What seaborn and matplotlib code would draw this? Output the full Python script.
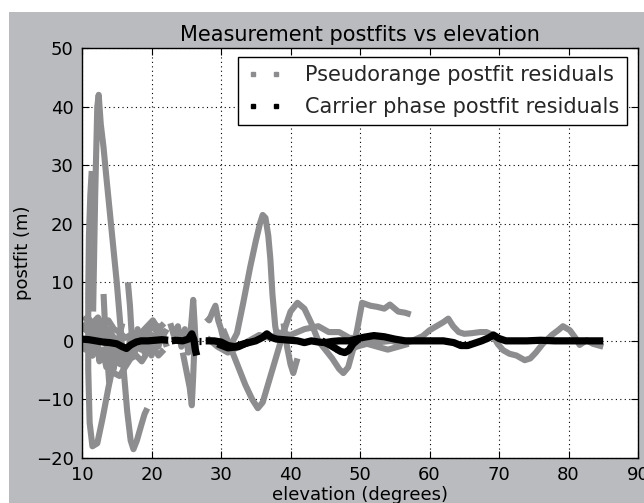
import numpy as np
import pandas as pd
import matplotlib
matplotlib.use("Agg")
import matplotlib.pyplot as plt
from matplotlib.lines import Line2D
from matplotlib.patches import Rectangle
import seaborn as sns

# ---------------- data ----------------
title = "Measurement postfits vs elevation"
xlabel = "elevation (degrees)"
ylabel = "postfit (m)"
xticks = [10, 20, 30, 40, 50, 60, 70, 80, 90]
yticks = [-20, -10, 0, 10, 20, 30, 40, 50]
legend_labels = ["Pseudorange postfit residuals", "Carrier phase postfit residuals"]

# pseudorange postfit residual tracks (elevation, postfit)
pr1_elev = [11.6, 11.9, 12.2, 12.4, 12.7, 13.1, 13.5, 14.0, 14.5, 15.0, 15.5, 16.0, 16.5, 17.0, 17.4, 17.9, 18.5, 19.0, 19.4]
pr1_res = [5, 25, 40, 42, 37, 33, 28, 22, 16, 10, 3, -5, -12, -17, -18.5, -17, -14.5, -12.5, -11.5]

pr2_elev = [11.4, 11.2, 11.0, 10.9, 10.9, 11.1, 11.5, 12.2, 13.0, 13.8, 14.5, 15.2, 15.8]
pr2_res = [29, 25, 18, 8, -5, -14, -18, -17.5, -13, -8, -4, 0, 3]

pr3_elev = [10.0, 10.5, 11.0, 11.5, 12.0, 12.5, 13.0, 13.5, 14.0, 14.5, 15.0, 15.5, 16.0, 16.5, 17.0, 17.5, 18.0, 18.5, 19.0, 19.5, 20.0, 20.5, 21.0, 21.5, 22.2]
pr3_res = [3, 2, 3, 1, 2.5, 0.5, 2, 0, 1, -1, 0, -2, -1.5, -3, -1, -2.5, 0.5, -1.5, 1.5, -0.5, 1, -1.5, 2.5, 0.5, 2]
pr4_res = [0, -1.5, 0.5, -2.5, 1, -3.5, -1.5, -4.5, -1, -5, -2.5, -4, -1, -3, 1, -1, 2, 0, -2, 0.5, -2.5, -0.5, -1, 1.5, -1]

pr17_elev = [10.2, 10.8, 11.5, 12.3, 13.0, 13.8, 14.6, 15.4, 16.2, 17.0, 17.8, 18.6, 19.4, 20.2, 21.0, 21.8]
pr17_res = [1.5, 2.5, 2.0, 3.0, 1.0, 2.0, 0.5, -1.0, -2.5, -2.0, -1.5, 0.5, 1.5, 2.5, 1.0, 2.0]
pr18_res = [-1.0, -1.5, -2.5, -1.0, -3.0, -4.0, -5.5, -6.0, -4.5, -3.0, -2.5, -3.5, -2.0, -1.0, -2.5, -1.5]
pr19_res = [3.5, 4.0, 3.0, 4.0, 2.5, 3.5, 2.0, 1.5, 0.5, 1.0, 0.5, 1.5, 2.5, 3.5, 2.0, 3.0]

pr5_elev = [13.1, 13.3, 13.6, 13.9, 14.2]
pr5_res = [8, 3, -2, -7, -4]

pr6_elev = [16.6, 16.9, 17.1, 17.3]
pr6_res = [10, 6, 2, -1]

pr7_elev = [22.7, 23.2, 23.8, 24.3, 24.8, 25.3, 25.6]
pr7_res = [3, 1, 2.5, -1, 2, -2, 1]

pr8_elev = [24.5, 25.0, 25.5, 25.8, 26.0, 26.2]
pr8_res = [-2, -5, -8, -11, -6, 0]

pr9_elev = [25.5, 25.8, 26.0, 26.2, 26.4]
pr9_res = [0, 4, 7, 3, -2]

pr10_elev = [27.9, 28.3, 28.8, 29.2, 29.6, 30.0, 30.4, 30.8]
pr10_res = [4, 3.5, 5, 6, 3.5, 2, 0, -1]

pr11_elev = [31.5, 32.3, 33.2, 34.2, 35.0, 35.6, 36.0, 36.4, 36.8, 37.1, 37.4, 37.8, 38.2]
pr11_res = [-0.5, 1.3, 6.5, 12.6, 17, 20, 21.5, 21, 18, 14, 8, 2.5, 0]

pr12_elev = [30.3, 31.5, 32.5, 33.5, 34.5, 35.3, 36.0, 37.0, 38.0, 39.0, 40.0, 41.0, 42.0, 43.0, 44.0, 45.0, 46.0, 47.0, 47.6, 48.3, 49.0, 49.6, 50.3, 51.5, 52.5, 53.5, 54.3, 55.5, 56.5, 57.3]
pr12_res = [2, -1.5, -4.5, -7.5, -10, -11.5, -10.5, -6.5, -2.5, 1.5, 5, 6.5, 5.5, 3, 0, -1.5, -3, -4.8, -5.5, -4.5, -1.5, 2, 6.5, 6, 5.8, 5.5, 6.2, 5, 4.8, 4.5]

pr13_elev = [39.0, 39.5, 40.0, 40.4, 41.0]
pr13_res = [3, -1, -4, -5.5, -3]

pr14_elev = [38.0, 40.0, 42.0, 44.0, 45.5, 47.0, 48.5, 50.0, 51.5, 53.0, 54.5, 56.0, 57.5, 59.0, 60.0, 61.0, 62.0, 62.7, 63.4, 64.2, 65.0, 66.0, 67.3, 68.2, 69.1, 69.8, 70.6, 71.5, 72.5, 73.7, 74.5, 75.3, 76.3, 77.6, 78.5, 79.2, 80.2, 81.0, 81.6, 82.6, 83.5, 85.0]
pr14_res = [1.5, 1, 2, 2.5, 1.5, 1.5, 0.5, 0.5, 0, -0.2, 0, -0.5, 0, 0.8, 1.8, 2.5, 3.2, 3.8, 2.5, 1.5, 1.2, 1.3, 1.5, 1.5, 1.0, -0.5, -1.6, -2.2, -2.5, -3.3, -3.0, -2.0, -0.5, 1.0, 1.8, 2.5, 1.8, 0.5, -0.7, 0.1, -0.5, -1.0]

pr15_elev = [46.5, 48.0, 49.5, 51.0, 52.5, 54.0, 55.5, 57.0]
pr15_res = [-1.5, -2, -1, -0.5, -1, -1.5, -1, -0.5]

pr16_elev = [28.0, 29.5, 31.0, 32.5, 34.0, 35.5, 37.0, 38.0]
pr16_res = [0.5, -1, -2, -1, 0, 1, 0.5, 1]

# carrier phase postfit residual tracks
cp1_elev = [10.0, 11.0, 12.0, 13.0, 14.0, 15.0, 15.8, 16.4, 17.0, 17.8, 18.5, 19.5, 20.5, 21.5, 22.4]
cp1_res = [0.3, 0.2, 0, -0.2, -0.3, -0.5, -1.0, -1.3, -0.7, -0.2, 0, 0, 0.1, 0.2, 0.1]

cp2_elev = [22.9, 23.5, 24.5, 25.3, 25.8, 26.1, 26.3, 26.5]
cp2_res = [0, 0.1, 0, 0.3, 1.2, 0.2, -1.5, -2.5]

cp3_elev = [26.9, 27.1]
cp3_res = [0, 0]

cp4_elev = [27.8, 29, 30, 31, 32, 33, 34, 35, 36, 36.6, 37.2, 38, 39, 40, 41, 42, 43, 44, 45, 46, 47, 47.8, 48.5, 49.5, 50.5, 52, 53.5, 55, 56.5, 58, 60, 62, 63.5, 64.5, 65.5, 66.5, 67.5, 68.5, 69.2, 70, 71, 72, 74, 76, 78, 80, 82, 85]
cp4_res = [0, 0, -0.2, -0.8, -1, -0.6, -0.3, 0, 0.6, 1.2, 0.6, 0.3, 0.2, 0.1, 0, -0.3, 0, -0.2, -0.3, -0.1, 0, 0, 0, 0.3, 0.6, 0.9, 0.7, 0.3, 0, 0, 0, 0, -0.3, -0.8, -0.8, -0.4, 0, 0.5, 1.0, 0.4, 0, 0, 0, 0.1, 0, 0, 0, 0]

cp5_elev = [44.5, 45.5, 46.5, 47.2, 47.8, 48.4, 49.0, 49.8]
cp5_res = [0, -0.6, -1.3, -1.8, -2.0, -1.6, -0.5, 0.3]

cp6_elev = [29.5, 31.0, 32.5, 34.0]
cp6_res = [-0.5, -1.2, -1.0, -0.2]

pr_tracks = [(pr1_elev, pr1_res), (pr2_elev, pr2_res), (pr3_elev, pr3_res), (pr3_elev, pr4_res),
             (pr17_elev, pr17_res), (pr17_elev, pr18_res), (pr17_elev, pr19_res),
             (pr5_elev, pr5_res), (pr6_elev, pr6_res), (pr7_elev, pr7_res), (pr8_elev, pr8_res),
             (pr9_elev, pr9_res), (pr10_elev, pr10_res), (pr11_elev, pr11_res), (pr12_elev, pr12_res),
             (pr13_elev, pr13_res), (pr14_elev, pr14_res), (pr15_elev, pr15_res), (pr16_elev, pr16_res)]
cp_tracks = [(cp1_elev, cp1_res), (cp2_elev, cp2_res), (cp3_elev, cp3_res), (cp4_elev, cp4_res),
             (cp5_elev, cp5_res), (cp6_elev, cp6_res)]


def to_frame(tracks, kind):
    rows = []
    for i, (e, r) in enumerate(tracks):
        for j, (a, b) in enumerate(zip(e, r)):
            rows.append({"elev": a, "res": b, "track": f"{kind}{i}", "order": j})
    return pd.DataFrame(rows)


df_pr = to_frame(pr_tracks, "pr")
df_cp = to_frame(cp_tracks, "cp")

# ---------------- styling ----------------
sns.set_theme(style="white")
plt.rcParams["font.family"] = ["DejaVu Sans"]

GRAY = "#8d8d8f"
FIGBG = "#b9bbbe"

fig = plt.figure(figsize=(6.44, 5.03), dpi=100, facecolor="white")
fig.patches.append(Rectangle((9 / 644, 0), 1 - 9 / 644, 1 - 12 / 503, transform=fig.transFigure,
                             facecolor=FIGBG, edgecolor="none", zorder=-10))
ax = fig.add_axes([82 / 644, 1 - 458 / 503, 556 / 644, 410 / 503])
ax.set_facecolor("white")

sns.lineplot(data=df_pr, x="elev", y="res", units="track", estimator=None, sort=False,
             color=GRAY, lw=4.4, ax=ax, legend=False, zorder=2)
sns.lineplot(data=df_cp, x="elev", y="res", units="track", estimator=None, sort=False,
             color="black", lw=5.2, ax=ax, legend=False, zorder=3)
for ln in ax.lines:
    ln.set_solid_capstyle("butt")

ax.set_xlim(10, 90)
ax.set_ylim(-20, 50)
ax.set_xticks(xticks)
ax.set_yticks(yticks)
ax.grid(True, color="black", linestyle=(0, (1, 3)), linewidth=0.8)
for s in ax.spines.values():
    s.set_color("black")
    s.set_linewidth(1.0)
ax.tick_params(direction="in", length=5, width=0.8, top=True, right=True, bottom=True, left=True,
               labelsize=13, pad=6, colors="black")

ax.set_title(title, fontsize=15, pad=5, color="black")
ax.set_xlabel(xlabel, fontsize=13, color="black")
ax.set_ylabel(ylabel, fontsize=13, color="black")
ax.xaxis.set_label_coords(0.5, -0.068)
ax.yaxis.set_label_coords(-0.09, 0.5)

handles = [Line2D([0], [0], color=GRAY, marker="s", markersize=3, linestyle="none"),
           Line2D([0], [0], color="black", marker="s", markersize=3, linestyle="none")]
leg = ax.legend(handles, legend_labels, loc="upper right", bbox_to_anchor=(0.980, 0.978),
                numpoints=2, fontsize=15, frameon=True, fancybox=False,
                handlelength=1.7, handletextpad=1.1, borderpad=0.38,
                labelspacing=0.6, borderaxespad=0.0)
leg.get_frame().set_edgecolor("black")
leg.get_frame().set_linewidth(1.0)
leg.get_frame().set_alpha(1)

fig.savefig("out.png", dpi=100, facecolor=fig.get_facecolor())
